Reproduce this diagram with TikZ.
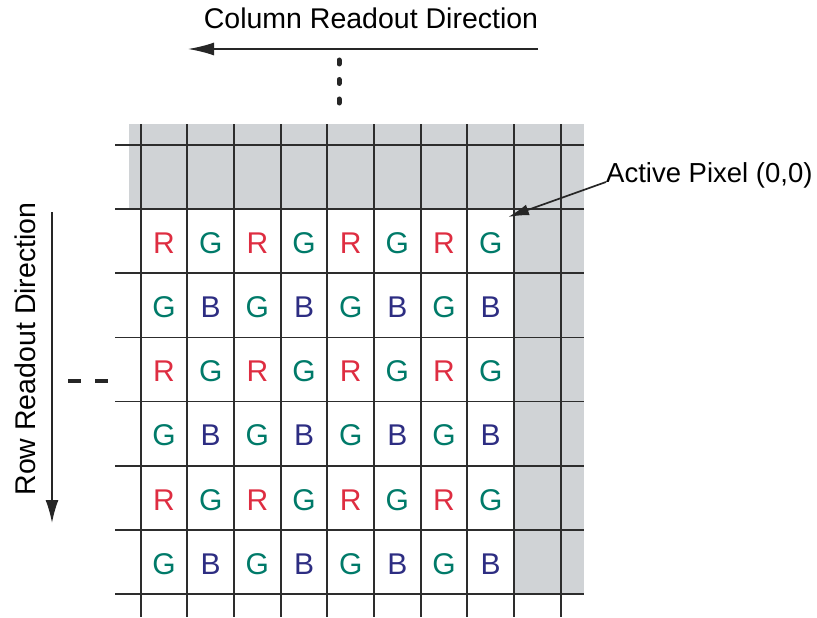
\documentclass[tikz,border=0pt]{standalone}
\definecolor{pixred}{RGB}{222,45,65}
\definecolor{pixgreen}{RGB}{0,122,105}
\definecolor{pixblue}{RGB}{45,45,130}
\definecolor{maskgray}{RGB}{208,211,214}
\definecolor{rulegray}{RGB}{45,45,45}
\usepackage{fontspec}
\setmainfont{Liberation Sans}
\usepackage{tikz}
\usetikzlibrary{arrows.meta}

\begin{document}
\begin{tikzpicture}[x=1pt, y=-1pt,
  gridrule/.style={draw=rulegray, line width=1.8pt},
  pix/.style={font=\fontsize{30}{33}\selectfont, inner sep=0pt},
  dirtext/.style={font=\fontsize{28.5}{31}\selectfont, inner sep=0pt},
  readout/.style={-{Latex[length=26pt, width=13pt]}, line width=1.7pt, draw=black!85}]
  % Sensor array: 1 unit = 1px of the 817 x 618 sheet
  \useasboundingbox (0,0) rectangle (817,618);
  \def\gx{140.7}  % first column rule
  \def\gy{145}    % first row rule
  \def\colw{46.67}
  \def\rowh{64.14}

  % Masked (dark) pixels: top row and right columns
  \fill[maskgray] (129,124) rectangle (584,{\gy+\rowh});
  \fill[maskgray] ({\gx+8*\colw},124) rectangle (584,{\gy+7*\rowh});

  % Pixel grid
  \foreach \k in {0,...,7}
    \draw[gridrule] (115,{\gy+\k*\rowh}) -- (584,{\gy+\k*\rowh});
  \foreach \k in {0,...,9}
    \draw[gridrule] ({\gx+\k*\colw},124) -- ({\gx+\k*\colw},617);

  % Bayer pattern, odd rows: R G R G ...
  \foreach \r in {1,3,5}
    \foreach \c in {0,2,4,6} {
      \pgfmathtruncatemacro\n{\c+1}
      \node[pix, text=pixred] (px-\r-\c) at ({\gx+(\c+0.5)*\colw},{\gy+(\r+0.5)*\rowh+2}) {R};
      \node[pix, text=pixgreen] (px-\r-\n) at ({\gx+(\n+0.5)*\colw},{\gy+(\r+0.5)*\rowh+2}) {G};
    }
  % even rows: G B G B ...
  \foreach \r in {2,4,6}
    \foreach \c in {0,2,4,6} {
      \pgfmathtruncatemacro\n{\c+1}
      \node[pix, text=pixgreen] (px-\r-\c) at ({\gx+(\c+0.5)*\colw},{\gy+(\r+0.5)*\rowh+2}) {G};
      \node[pix, text=pixblue] (px-\r-\n) at ({\gx+(\n+0.5)*\colw},{\gy+(\r+0.5)*\rowh+2}) {B};
    }

  % Column readout
  \node[dirtext] (coltext) at (371,18) {Column Readout Direction};
  \coordinate (colstart) at (538,49);
  \coordinate (colend) at (188,49);
  \draw[readout] (colstart) -- (colend);
  \draw[draw=black!85, line width=5pt, line cap=round, dash pattern=on 4pt off 15.5pt] (339,60) -- (339,104);

  % Row readout
  \node[dirtext, rotate=90] (rowtext) at (25,349) {Row Readout Direction};
  \coordinate (rowstart) at (52,212);
  \coordinate (rowend) at (52,523);
  \draw[readout, -{Latex[length=23pt, width=13pt]}] (rowstart) -- (rowend);
  \draw[draw=black!85, line width=4.5pt, dash pattern=on 13pt off 14pt] (68,381) -- (108,381);

  % First active pixel
  \node[dirtext, font=\fontsize{27.5}{30}\selectfont, anchor=base west] (active) at (606,182) {Active Pixel (0,0)};
  \coordinate (pixel00) at (508,217);
  \draw[readout, -{Latex[length=21pt, width=11pt]}] (active.base west) -- (pixel00);
\end{tikzpicture}
\end{document}
